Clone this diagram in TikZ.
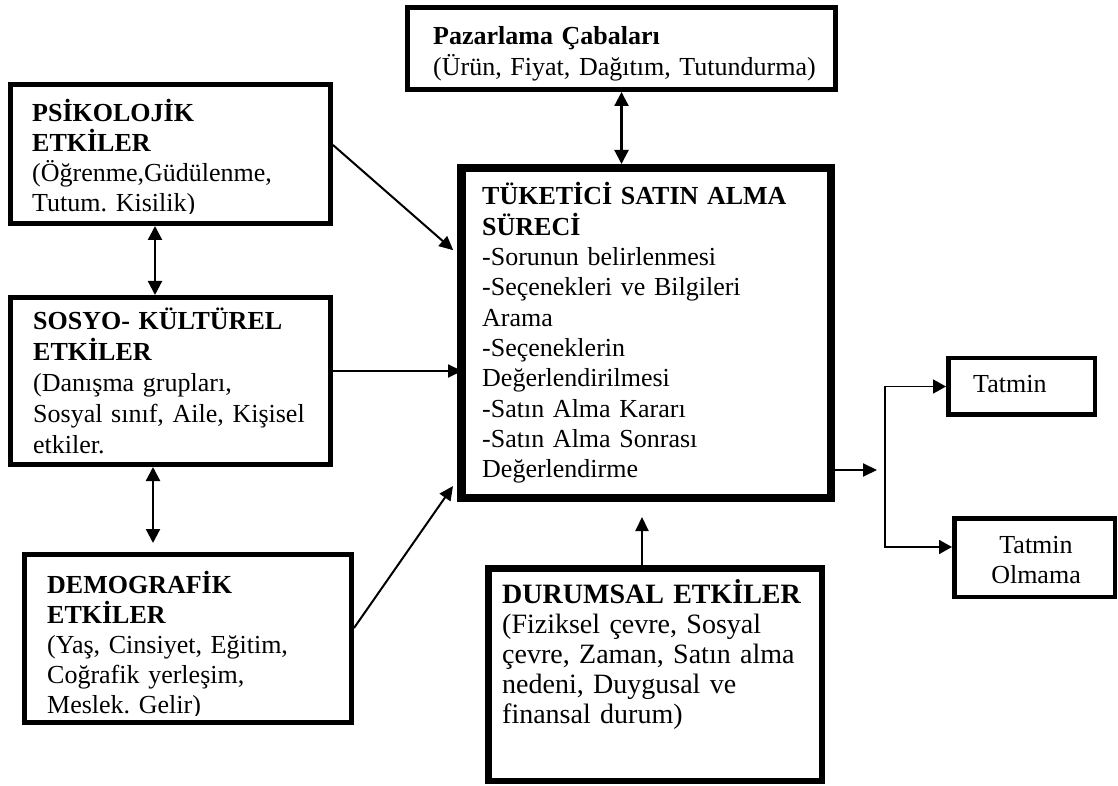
\documentclass[tikz,border=0pt]{standalone}
\usepackage{fontspec}
\setmainfont{Liberation Serif}
\usetikzlibrary{arrows.meta}
\begin{document}
\frenchspacing
\begin{tikzpicture}[x=1pt,y=1pt,
  box/.style={draw, line width=#1, rectangle, inner sep=0pt},
  txt/.style={inner sep=0pt, align=left, anchor=base west,
    font=\fontsize{26pt}{30.3pt}\selectfont},
  conn/.style={line width=2pt, -{Triangle[length=14pt,width=13pt]}},
  dconn/.style={line width=2.2pt, {Triangle[length=14pt,width=14pt]}-{Triangle[length=14pt,width=14pt]}},
  thinconn/.style={line width=1.7pt}
]
\useasboundingbox (0,0) rectangle (1118,785);

% boxes
\node[box=5pt, minimum width=428pt, minimum height=82pt] (paz) at (621.5,736.5) {};
\node[box=5pt, minimum width=320pt, minimum height=139pt] (psi) at (170.5,631) {};
\node[box=5pt, minimum width=320pt, minimum height=167pt] (sos) at (170.5,404) {};
\node[box=5pt, minimum width=327pt, minimum height=168pt] (dem) at (188,146.5) {};
\node[box=8.5pt, minimum width=369.5pt, minimum height=329.5pt] (tuk) at (646,452) {};
\node[box=6.5pt, minimum width=333.5pt, minimum height=212.5pt] (dur) at (655,110.5) {};
\node[box=4.5pt, minimum width=146.5pt, minimum height=56.5pt] (tat) at (1021.5,398.5) {};
\node[box=4.5pt, minimum width=160.5pt, minimum height=78.5pt] (olm) at (1034.5,227.5) {};

% box texts
\node[txt, text width=400pt] (pazT) at (433,740)
  {\textbf{Pazarlama Çabaları}\\(Ürün, Fiyat, Dağıtım, Tutundurma)};
\begin{scope}
  \clip (11,571) rectangle (330,700);
  \node[txt, text width=290pt, font=\fontsize{26pt}{30pt}\selectfont] (psiT) at (32,663)
    {\textbf{PSİKOLOJİK}\\\textbf{ETKİLER}\\(Öğrenme,Güdülenme,\\Tutum. Kisilik)};
\end{scope}
\node[txt, text width=290pt, font=\fontsize{26pt}{31pt}\selectfont] (sosT) at (33,455)
  {\textbf{SOSYO- KÜLTÜREL}\\\textbf{ETKİLER}\\(Danışma grupları,\\Sosyal sınıf, Aile, Kişisel\\etkiler.};
\begin{scope}
  \clip (25,70) rectangle (351,230);
  \node[txt, text width=295pt, font=\fontsize{26pt}{30pt}\selectfont] (demT) at (47,192)
    {\textbf{DEMOGRAFİK}\\\textbf{ETKİLER}\\(Yaş, Cinsiyet, Eğitim,\\Coğrafik yerleşim,\\Meslek. Gelir)};
\end{scope}
\node[txt, text width=340pt] (tukT) at (482,580)
  {\textbf{TÜKETİCİ SATIN ALMA}\\\textbf{SÜRECİ}\\-Sorunun belirlenmesi\\-Seçenekleri ve Bilgileri\\Arama\\-Seçeneklerin\\Değerlendirilmesi\\-Satın Alma Kararı\\-Satın Alma Sonrası\\Değerlendirme};
\node[txt, text width=318pt, font=\fontsize{28pt}{30pt}\selectfont] (durT) at (502,182)
  {\textbf{DURUMSAL ETKİLER}\\(Fiziksel çevre, Sosyal\\çevre, Zaman, Satın alma\\nedeni, Duygusal ve\\finansal durum)};
\node[txt] (tatT) at (973,392) {Tatmin};
\node[txt, anchor=base, align=center, text width=150pt, font=\fontsize{26pt}{30pt}\selectfont] (olmT) at (1036,232)
  {Tatmin\\Olmama};

% junction points of the outcome bracket
\coordinate (split) at (885,315);
\coordinate (jb) at (885,238);

% connectors
\draw[dconn] (paz.south) -- (paz.south |- tuk.north);
\draw[dconn] ([xshift=-15.5pt]psi.south) -- ([xshift=-15.5pt]psi.south |- sos.north);
\draw[dconn, shorten >=9pt] ([xshift=-17.5pt]sos.south) -- ([xshift=-17.5pt]sos.south |- dem.north);
\draw[conn, shorten >=5pt] ([yshift=9pt]psi.east) -- ([yshift=79.5pt]tuk.west);
\draw[conn, shorten >=-5pt] ([yshift=10pt]sos.east) -- ([yshift=10pt]sos.east -| tuk.west);
\draw[conn, shorten >=7pt] ([yshift=10.5pt]dem.east) -- ([yshift=-147.3pt]tuk.west);
\draw[conn, shorten >=15pt] ([xshift=-13pt]dur.north) -- ([xshift=-13pt]dur.north |- tuk.south);
\draw[conn, shorten >=8pt] (tuk.east |- split) -- (split);
\draw[thinconn, {Triangle[length=13pt,width=14pt]}-{Triangle[length=13pt,width=14pt]}]
  (tat.west) -| (jb) -- (olm.west |- jb);
\end{tikzpicture}
\end{document}
